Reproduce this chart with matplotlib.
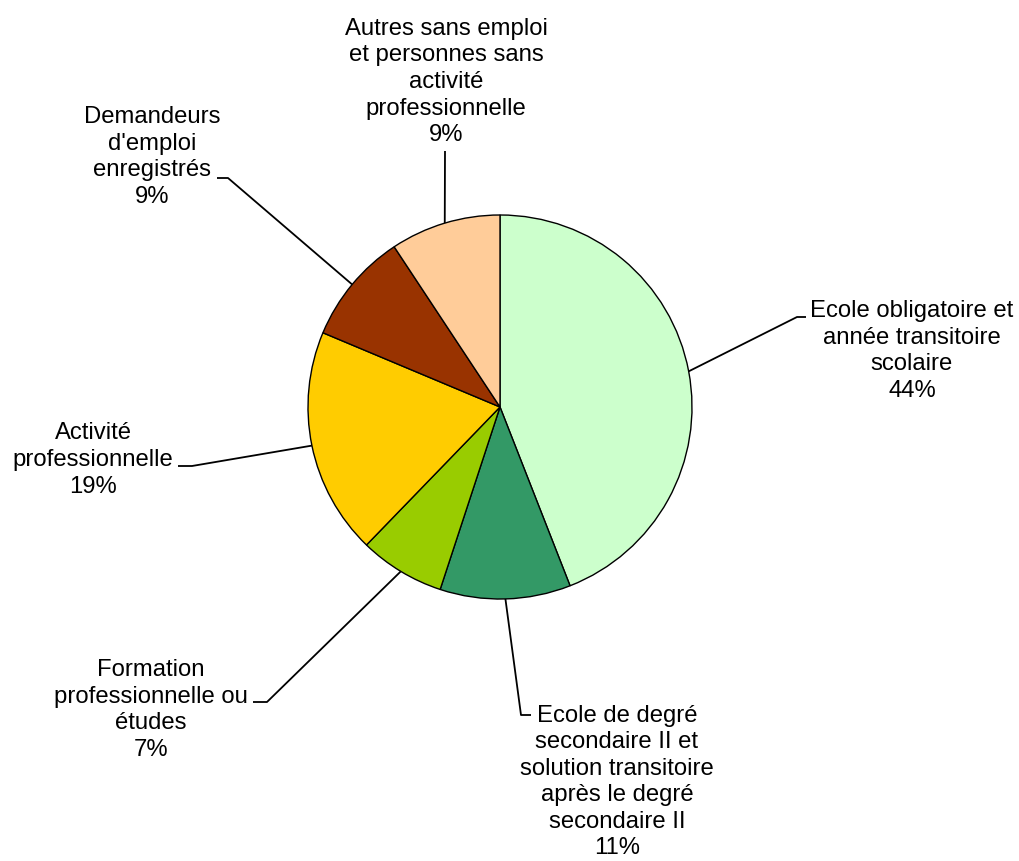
import numpy as np
import matplotlib
matplotlib.use("Agg")
import matplotlib.pyplot as plt

# ---- data ----
categories = [
    "Ecole obligatoire et\nannée transitoire\nscolaire",
    "Ecole de degré\nsecondaire II et\nsolution transitoire\naprès le degré\nsecondaire II",
    "Formation\nprofessionnelle ou\nétudes",
    "Activité\nprofessionnelle",
    "Demandeurs\nd'emploi\nenregistrés",
    "Autres sans emploi\net personnes sans\nactivité\nprofessionnelle",
]
values = [44.1, 11.0, 7.2, 19.1, 9.4, 9.3]
pct_labels = ["44%", "11%", "7%", "19%", "9%", "9%"]
colors = ["#CCFFCC", "#339966", "#99CC00", "#FFCC00", "#993300", "#FFCC99"]

# ---- layout (pixel coords, y measured from top of image) ----
W, H = 1020, 862
center_px = (500, 408)
radius_px = 192
label_pos = [(912, 351), (617, 782), (151, 710), (93, 460), (152, 157), (446, 82)]
elbow = [(797, 318), (521, 716), (267, 703), (192, 467), (228, 179), (445, 152)]
elbow_end = [(806, 318), (531, 716), (253, 703), (178, 467), (217, 179), (445, 152)]

plt.rcParams['font.family'] = ['Liberation Sans', 'DejaVu Sans']

fig = plt.figure(figsize=(W / 100, H / 100), dpi=100)
ax = fig.add_axes([0, 0, 1, 1])
ax.set_xlim(0, W)
ax.set_ylim(0, H)
ax.set_aspect('equal')
ax.axis('off')

cx, cy = center_px[0], H - center_px[1]
wedges, _ = ax.pie(values, colors=colors, startangle=90, counterclock=False,
                   center=(cx, cy), radius=radius_px, normalize=True,
                   wedgeprops=dict(edgecolor='black', linewidth=1.0))
ax.set_xlim(0, W)
ax.set_ylim(0, H)

total = sum(values)
cum = 0
for i, v in enumerate(values):
    mid = (cum + v / 2) / total
    cum += v
    ang = np.deg2rad(90 - 360 * mid)
    px = cx + radius_px * np.cos(ang)
    py = cy + radius_px * np.sin(ang)
    ex, ey = elbow[i]
    fx, fy = elbow_end[i]
    ax.plot([px, ex, fx], [py, H - ey, H - fy], color='black', lw=1.3,
            solid_capstyle='butt', zorder=3)
    lx, ly = label_pos[i]
    ax.text(lx, H - ly, categories[i] + "\n" + pct_labels[i], ha='center',
            va='center', fontsize=17.2, linespacing=1.27, color='black')

fig.savefig("out.png", dpi=100, facecolor='white')
